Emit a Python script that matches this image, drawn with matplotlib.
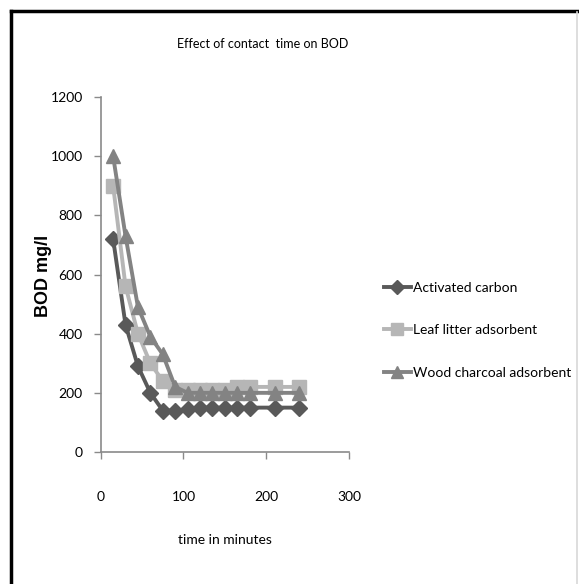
import matplotlib
matplotlib.use("Agg")
import matplotlib.pyplot as plt
from matplotlib.lines import Line2D

time_min = [15, 30, 45, 60, 75, 90, 105, 120, 135, 150, 165, 180, 210, 240]
activated_carbon = [720, 430, 290, 200, 140, 140, 145, 150, 150, 150, 150, 150, 150, 150]
leaf_litter = [900, 560, 400, 300, 240, 210, 210, 210, 210, 210, 220, 220, 220, 220]
wood_charcoal = [1000, 730, 490, 390, 330, 220, 200, 200, 200, 200, 200, 200, 200, 200]

series_names = ["Activated carbon", "Leaf litter adsorbent", "Wood charcoal adsorbent"]
x_ticks = [0, 100, 200, 300]
y_ticks = [0, 200, 400, 600, 800, 1000, 1200]

W, H = 579, 584
fig = plt.figure(figsize=(W / 100, H / 100), dpi=100)
fig.patch.set_facecolor("white")

font = ["Lato", "DejaVu Sans"]
ax = fig.add_axes([100.7 / W, 1 - 452 / H, (349 - 100.7) / W, (452 - 97) / H])

ax.plot(time_min, activated_carbon, color="#595959", lw=2.8, marker="D",
        ms=8, label=series_names[0])
ax.plot(time_min, leaf_litter, color="#b6b6b6", lw=2.8, marker="s",
        ms=9.5, label=series_names[1])
ax.plot(time_min, wood_charcoal, color="#838383", lw=2.8, marker="^",
        ms=10, label=series_names[2])

ax.set_xlim(0, 300)
ax.set_ylim(0, 1200)
ax.set_xticks(x_ticks)
ax.set_yticks(y_ticks)
for s in ("top", "right"):
    ax.spines[s].set_visible(False)
for s in ("left", "bottom"):
    ax.spines[s].set_color("#8a8a8a")
    ax.spines[s].set_linewidth(1.2)
ax.tick_params(direction="out", length=5, color="#8a8a8a", width=1.0,
               labelsize=10)
ax.tick_params(axis="x", pad=23)
ax.tick_params(axis="y", pad=8)
for lab in ax.get_xticklabels() + ax.get_yticklabels():
    lab.set_family(font)

fig.text(263 / W, 1 - 44 / H, "Effect of contact  time on BOD", ha="center",
         va="center", fontsize=9, family=font)
fig.text(225 / W, 1 - 540 / H, "time in minutes", ha="center", va="center",
         fontsize=10, family=font)
fig.text(44 / W, 1 - 276 / H, "BOD mg/l", ha="center", va="center",
         rotation=90, fontsize=13, fontweight="bold",
         family=["Liberation Sans", "DejaVu Sans"])

leg = fig.legend(loc="upper left", bbox_to_anchor=(371 / W, 1 - 269 / H),
                 frameon=False, prop={"family": font, "size": 10},
                 handlelength=2.0, handletextpad=0.1, labelspacing=2.2,
                 markerscale=0.85)

# outer chart frame
fig.add_artist(Line2D([11 / W, 11 / W], [0, 1 - 11 / H], transform=fig.transFigure,
                      color="black", lw=2.5))
fig.add_artist(Line2D([11 / W, 1], [1 - 11 / H, 1 - 11 / H], transform=fig.transFigure,
                      color="black", lw=2.5))
fig.add_artist(Line2D([577 / W, 577 / W], [0, 1 - 12 / H], transform=fig.transFigure,
                      color="#d8d8d8", lw=1.2))

fig.savefig("out.png", dpi=100, facecolor="white")
